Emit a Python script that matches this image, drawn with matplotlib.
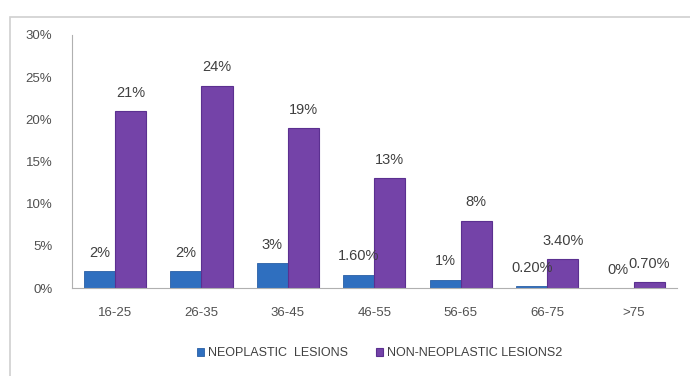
import numpy as np
import matplotlib.pyplot as plt
from matplotlib.patches import Rectangle

# Age groups and percentages
age_groups = ["16-25", "26-35", "36-45", "46-55", "56-65", "66-75", ">75"]
neoplastic = [2, 2, 3, 1.6, 1, 0.2, 0]
non_neoplastic = [21, 24, 19, 13, 8, 3.4, 0.7]
neo_labels = ["2%", "2%", "3%", "1.60%", "1%", "0.20%", "0%"]
non_labels = ["21%", "24%", "19%", "13%", "8%", "3.40%", "0.70%"]

plt.rcParams['font.family'] = ['Liberation Sans', 'DejaVu Sans']

fig = plt.figure(figsize=(6.9, 3.76), dpi=100)
ax = fig.add_axes([0.104, 0.234, 0.877, 0.673])

# chart frame
fig.patches.append(Rectangle((10 / 690, -0.1), 1.0, 1 - 17 / 376 + 0.1,
                             transform=fig.transFigure, fill=False,
                             edgecolor="#d0d0d0", linewidth=1.2))

x = np.arange(len(age_groups))
w = 0.36
b1 = ax.bar(x - w / 2, neoplastic, w, color="#2f6fbf", edgecolor="#2a5fa5",
            linewidth=0.6, label="NEOPLASTIC  LESIONS")
b2 = ax.bar(x + w / 2, non_neoplastic, w, color="#7443a8", edgecolor="#5b3090",
            linewidth=0.8, label="NON-NEOPLASTIC LESIONS2")

for bars, labels in ((b1, neo_labels), (b2, non_labels)):
    for bar, lab in zip(bars, labels):
        ax.annotate(lab, (bar.get_x() + bar.get_width() / 2, bar.get_height()),
                    xytext=(0, 8), textcoords="offset points",
                    ha="center", va="bottom", fontsize=10.5, color="#404040")

ax.set_xlim(-0.5, len(age_groups) - 0.5)
ax.set_ylim(0, 30)
ax.set_yticks(range(0, 31, 5))
ax.set_yticklabels([f"{v}%" for v in range(0, 31, 5)])
ax.set_xticks(x)
ax.set_xticklabels(age_groups)
ax.tick_params(axis="both", length=0, labelsize=9.5, labelcolor="#505050")
ax.tick_params(axis="x", pad=14)
ax.tick_params(axis="y", pad=14)

for s in ("top", "right"):
    ax.spines[s].set_visible(False)
ax.spines["left"].set_color("#b0b0b0")
ax.spines["bottom"].set_color("#b0b0b0")

fig.legend(loc="center", bbox_to_anchor=(0.55, 0.06), ncol=2, frameon=False,
           fontsize=9, handlelength=0.6, handleheight=0.6, handletextpad=0.3,
           columnspacing=2.2, labelcolor="#404040")

fig.savefig("out.png", dpi=100)
